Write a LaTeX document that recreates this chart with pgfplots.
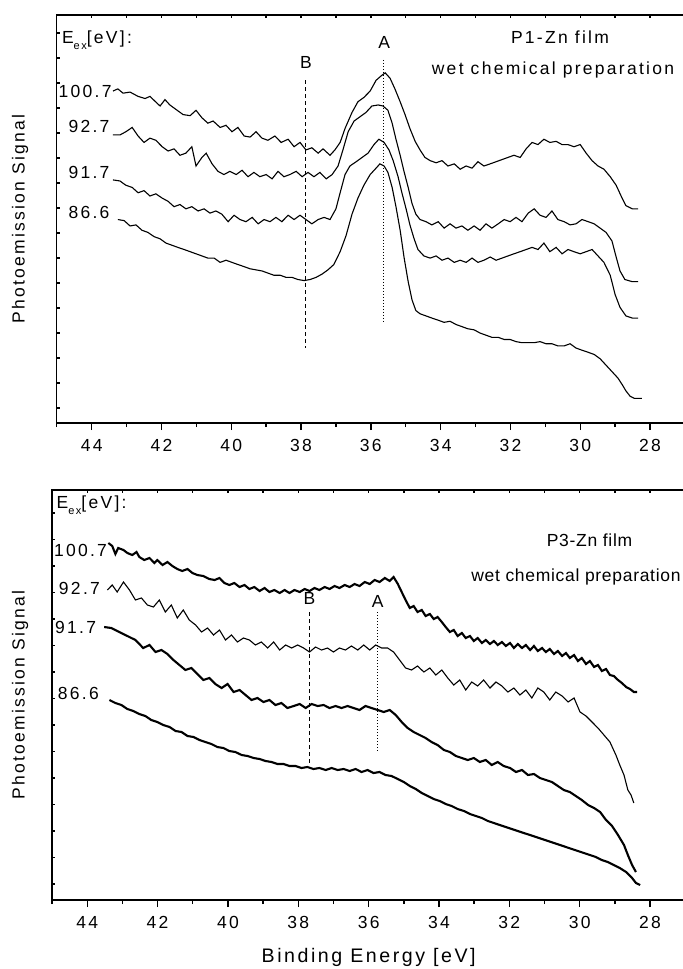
\documentclass[border=0pt]{standalone}
\usepackage{pgfplots}
\pgfplotsset{compat=1.18}
\usepackage{fontspec}
\setmainfont[LetterSpace=13]{Liberation Sans}
\newfontfamily\narrowfont[LetterSpace=4]{Liberation Sans}
\newcommand{\fs}{\fontsize{8.75}{10.5}\selectfont}
\newcommand{\Eex}{E\raisebox{-0.7ex}{\fontsize{5.5}{6}\selectfont ex}[eV]:}
\pgfplotsset{
  base/.style={
    scale only axis, anchor=north west,
    xmin=27, xmax=45, x dir=reverse,
    axis line style={line width=0.7pt},
    every tick label/.append style={font=\fs},
    /pgf/number format/assume math mode=true,
    label style={font=\fs},
  },
  mainax/.style={base,
    tick align=outside, xtick pos=left, ytick=\empty,
    xtick={28,30,...,44}, minor xtick={27,29,...,45},
    major tick length=3.5pt, minor tick length=2pt,
    tick style={line width=0.7pt, black},
    xticklabel style={yshift=-1pt},
  },
  overax/.style={base,
    tick align=inside, xtick pos=right, ytick pos=left,
    xtick={27,28,...,45}, xticklabels={}, yticklabels={},
    major tick length=1.5pt,
    tick style={line width=0.7pt, black},
  },
  thin/.style={black, line width=0.55pt, no marks},
  bold/.style={black, line width=1.05pt, no marks},
}
\begin{document}
\begin{tikzpicture}
%================ TOP PANEL =================
\begin{axis}[overax, at={(28.4pt,-7.5pt)}, width=314.05pt, height=204pt,
  ymin=-400, ymax=-19, ytick={-35.85,-59.19,...,-400}]
\end{axis}
\begin{axis}[mainax, at={(28.4pt,-7.5pt)}, width=314.05pt, height=204pt,
  ymin=-400, ymax=-19,
  ylabel={Photoemission Signal},
  ylabel style={at={(axis description cs:-0.0586,0.5)}, anchor=center},
  clip=false]
% 100.7
\addplot[thin] coordinates {
(43.39,-90)(43.25,-88)(43.10,-92)(42.90,-91)(42.67,-95)(42.47,-97)(42.33,-95)(42.17,-100)(42.04,-104)(41.90,-98)(41.76,-103)(41.55,-108)(41.38,-112)(41.18,-113)(41.01,-108)(40.84,-115)(40.67,-120)(40.52,-118)(40.32,-124)(40.15,-122)(39.98,-128)(39.81,-124)(39.63,-132)(39.46,-133)(39.29,-128)(39.12,-134)(38.95,-136)(38.75,-132)(38.57,-138)(38.37,-135)(38.20,-142)(38.03,-138)(37.86,-145)(37.69,-143)(37.51,-148)(37.37,-144)(37.17,-150)(37.03,-145)(36.88,-138)(36.74,-125)(36.54,-110)(36.37,-100)(36.20,-96)(36.02,-90)(35.85,-80)(35.71,-76)(35.59,-73)(35.45,-78)(35.31,-88)(35.16,-100)(35.02,-112)(34.88,-125)(34.73,-137)(34.59,-145)(34.45,-152)(34.30,-155)(34.13,-157)(33.96,-155)(33.79,-160)(33.61,-158)(33.44,-163)(33.27,-160)(33.10,-162)(32.93,-156)(32.76,-160)(32.58,-158)(32.41,-156)(32.24,-154)(32.07,-152)(31.90,-150)(31.72,-152)(31.55,-144)(31.38,-138)(31.21,-140)(31.04,-135)(30.87,-138)(30.69,-137)(30.52,-140)(30.35,-140)(30.18,-142)(30.00,-140)(29.83,-148)(29.66,-155)(29.49,-160)(29.32,-163)(29.14,-170)(28.97,-178)(28.80,-190)(28.69,-197)(28.51,-200)(28.34,-200)};
% 92.7
\addplot[thin] coordinates {
(43.39,-131)(43.19,-131)(43.02,-128)(42.84,-124)(42.67,-132)(42.50,-138)(42.33,-134)(42.16,-136)(41.98,-142)(41.81,-146)(41.64,-144)(41.47,-150)(41.30,-148)(41.13,-142)(41.01,-160)(40.84,-152)(40.72,-148)(40.55,-158)(40.38,-165)(40.21,-168)(40.04,-165)(39.86,-168)(39.69,-164)(39.52,-170)(39.35,-166)(39.18,-170)(39.00,-168)(38.83,-172)(38.66,-165)(38.49,-170)(38.32,-168)(38.14,-165)(37.97,-170)(37.80,-166)(37.63,-170)(37.46,-166)(37.28,-172)(37.11,-168)(36.94,-160)(36.80,-145)(36.65,-128)(36.48,-118)(36.31,-114)(36.14,-110)(35.97,-104)(35.79,-103)(35.65,-104)(35.51,-108)(35.39,-120)(35.28,-135)(35.16,-150)(35.05,-165)(34.93,-180)(34.82,-195)(34.71,-205)(34.59,-210)(34.42,-212)(34.25,-215)(34.07,-212)(33.90,-218)(33.73,-214)(33.56,-218)(33.39,-216)(33.22,-220)(33.04,-216)(32.87,-220)(32.70,-214)(32.53,-218)(32.35,-214)(32.18,-210)(32.01,-212)(31.84,-208)(31.67,-212)(31.49,-204)(31.32,-200)(31.15,-206)(30.98,-208)(30.81,-202)(30.64,-210)(30.46,-212)(30.29,-215)(30.12,-214)(29.95,-210)(29.77,-212)(29.60,-214)(29.43,-218)(29.26,-222)(29.09,-230)(28.97,-245)(28.86,-258)(28.72,-266)(28.51,-268)(28.34,-268)};
% 91.7
\addplot[thin] coordinates {
(43.39,-173)(43.19,-174)(43.02,-178)(42.84,-180)(42.67,-185)(42.50,-183)(42.33,-188)(42.16,-186)(41.98,-190)(41.81,-193)(41.64,-198)(41.47,-196)(41.30,-200)(41.13,-198)(40.95,-202)(40.78,-200)(40.61,-204)(40.44,-202)(40.27,-205)(40.09,-212)(39.92,-206)(39.75,-210)(39.58,-212)(39.40,-208)(39.23,-214)(39.06,-210)(38.89,-212)(38.72,-208)(38.55,-212)(38.37,-206)(38.20,-210)(38.03,-206)(37.86,-210)(37.69,-214)(37.51,-210)(37.34,-208)(37.17,-210)(37.00,-200)(36.88,-185)(36.74,-168)(36.60,-160)(36.42,-156)(36.25,-152)(36.08,-148)(35.91,-140)(35.77,-135)(35.62,-138)(35.48,-145)(35.36,-155)(35.22,-170)(35.11,-185)(34.99,-200)(34.88,-215)(34.76,-228)(34.65,-238)(34.48,-244)(34.30,-246)(34.13,-244)(33.96,-248)(33.79,-246)(33.61,-250)(33.44,-248)(33.27,-250)(33.10,-246)(32.93,-250)(32.76,-248)(32.58,-245)(32.41,-248)(32.24,-246)(32.07,-244)(31.90,-242)(31.72,-240)(31.55,-238)(31.38,-236)(31.21,-238)(31.04,-232)(30.87,-240)(30.69,-236)(30.52,-242)(30.35,-238)(30.18,-240)(30.00,-242)(29.83,-240)(29.66,-238)(29.49,-244)(29.32,-250)(29.14,-262)(29.00,-280)(28.86,-292)(28.69,-300)(28.51,-302)(28.34,-302)};
% 86.6
\addplot[thin] coordinates {
(43.25,-210)(43.07,-211)(42.90,-216)(42.73,-215)(42.56,-220)(42.39,-222)(42.21,-226)(42.04,-228)(41.87,-232)(41.70,-234)(41.53,-236)(41.35,-238)(41.18,-240)(41.01,-242)(40.84,-244)(40.67,-246)(40.49,-246)(40.32,-250)(40.15,-248)(39.98,-250)(39.81,-252)(39.63,-254)(39.46,-256)(39.29,-257)(39.12,-258)(38.95,-260)(38.78,-262)(38.60,-262)(38.43,-264)(38.26,-264)(38.09,-266)(37.91,-267)(37.74,-266)(37.57,-264)(37.40,-261)(37.23,-257)(37.06,-252)(36.88,-240)(36.71,-225)(36.54,-205)(36.37,-190)(36.20,-178)(36.02,-168)(35.85,-162)(35.74,-158)(35.62,-160)(35.51,-166)(35.39,-180)(35.28,-198)(35.16,-220)(35.05,-245)(34.93,-268)(34.82,-285)(34.71,-295)(34.59,-298)(34.42,-300)(34.25,-302)(34.07,-304)(33.90,-306)(33.73,-305)(33.56,-308)(33.39,-310)(33.22,-312)(33.04,-313)(32.87,-316)(32.70,-318)(32.53,-320)(32.35,-320)(32.18,-322)(32.01,-322)(31.84,-324)(31.67,-325)(31.49,-325)(31.32,-325)(31.15,-324)(30.98,-326)(30.81,-326)(30.64,-328)(30.46,-328)(30.29,-326)(30.12,-330)(29.95,-332)(29.77,-334)(29.60,-336)(29.43,-340)(29.26,-346)(29.09,-352)(28.92,-358)(28.80,-364)(28.69,-370)(28.57,-375)(28.45,-377)(28.23,-377)};
% marker lines
\addplot[black, line width=0.55pt, dash pattern=on 2pt off 1.5pt] coordinates {(37.86,-80)(37.86,-330)};
\addplot[black, line width=0.55pt, dash pattern=on 0.5pt off 1pt] coordinates {(35.65,-61)(35.65,-305)};
\node[font=\fs] at (axis cs:35.62,-45.1) {A};
\node[font=\fs] at (axis cs:37.86,-63.8) {B};
\node[font=\fs, anchor=west, inner sep=0] at (axis cs:44.86,-42.4) {\Eex};
\node[font=\fs, anchor=east, inner sep=0] at (axis cs:43.42,-90) {100.7};
\node[font=\fs, anchor=east, inner sep=0] at (axis cs:43.48,-122.7) {92.7};
\node[font=\fs, anchor=east, inner sep=0] at (axis cs:43.48,-165.6) {91.7};
\node[font=\fs, anchor=east, inner sep=0] at (axis cs:43.48,-203) {86.6};
\node[font=\fs] at (axis cs:30.58,-39.5) {P1-Zn film};
\node[font=\fs] at (axis cs:30.78,-70) {wet chemical preparation};
\end{axis}
%================ BOTTOM PANEL =================
\begin{axis}[overax, at={(26.05pt,-245pt)}, width=316.55pt, height=205pt,
  ymin=-900, ymax=-490, ytick={-513,-539.5,...,-900}]
\end{axis}
\begin{axis}[mainax, at={(26.05pt,-245pt)}, width=316.55pt, height=205pt,
  ymin=-900, ymax=-490,
  ylabel={Photoemission Signal},
  ylabel style={at={(axis description cs:-0.0507,0.5)}, anchor=center},
  xlabel={Binding Energy [eV]},
  xlabel style={at={(axis description cs:0.5,0)}, anchor=center, yshift=-28.5pt, font=\fontsize{9.8}{11}\selectfont},
  clip=false]
% 100.7
\addplot[bold] coordinates {
(43.40,-543)(43.29,-546)(43.20,-554)(43.12,-548)(42.97,-550)(42.86,-553)(42.72,-555)(42.60,-552)(42.52,-557)(42.38,-560)(42.23,-558)(42.09,-563)(42.01,-560)(41.86,-565)(41.72,-562)(41.58,-566)(41.44,-569)(41.30,-571)(41.15,-569)(41.01,-573)(40.87,-575)(40.70,-576)(40.53,-579)(40.38,-580)(40.24,-578)(40.10,-583)(39.96,-585)(39.82,-583)(39.67,-587)(39.53,-585)(39.39,-589)(39.25,-587)(39.10,-591)(38.96,-588)(38.82,-592)(38.68,-590)(38.53,-593)(38.39,-590)(38.25,-593)(38.11,-590)(37.96,-592)(37.82,-589)(37.68,-591)(37.54,-588)(37.40,-590)(37.25,-587)(37.11,-589)(36.97,-586)(36.83,-588)(36.68,-585)(36.54,-587)(36.40,-584)(36.26,-586)(36.11,-582)(35.97,-584)(35.83,-580)(35.69,-582)(35.54,-578)(35.40,-581)(35.29,-577)(35.17,-584)(35.06,-592)(34.95,-600)(34.83,-608)(34.72,-606)(34.61,-612)(34.49,-610)(34.38,-616)(34.26,-614)(34.15,-619)(34.04,-617)(33.92,-622)(33.81,-627)(33.69,-632)(33.58,-630)(33.47,-636)(33.35,-633)(33.24,-638)(33.12,-636)(33.01,-641)(32.90,-638)(32.78,-643)(32.67,-640)(32.55,-644)(32.44,-641)(32.33,-645)(32.21,-642)(32.10,-646)(31.98,-643)(31.87,-648)(31.76,-644)(31.64,-648)(31.53,-645)(31.41,-650)(31.30,-646)(31.19,-651)(31.07,-648)(30.96,-652)(30.85,-649)(30.73,-654)(30.62,-651)(30.50,-656)(30.39,-653)(30.28,-658)(30.16,-655)(30.05,-661)(29.94,-658)(29.82,-664)(29.71,-661)(29.59,-667)(29.48,-665)(29.37,-671)(29.25,-669)(29.14,-675)(29.03,-676)(28.91,-680)(28.80,-683)(28.68,-687)(28.57,-689)(28.46,-692)(28.37,-692)};
% 92.7
\addplot[thin] coordinates {
(43.43,-590)(43.29,-585)(43.15,-592)(42.97,-582)(42.80,-590)(42.63,-600)(42.46,-598)(42.29,-605)(42.12,-607)(41.95,-600)(41.78,-612)(41.61,-605)(41.44,-618)(41.27,-610)(41.10,-620)(40.92,-625)(40.75,-632)(40.58,-628)(40.41,-635)(40.24,-630)(40.07,-640)(39.90,-635)(39.73,-642)(39.56,-638)(39.39,-640)(39.22,-645)(39.05,-642)(38.87,-648)(38.70,-642)(38.53,-650)(38.36,-645)(38.19,-648)(38.02,-645)(37.85,-648)(37.68,-652)(37.51,-647)(37.34,-650)(37.17,-648)(37.00,-652)(36.83,-648)(36.66,-650)(36.49,-646)(36.31,-650)(36.14,-645)(35.97,-650)(35.80,-645)(35.63,-648)(35.46,-648)(35.29,-652)(35.12,-660)(34.95,-668)(34.78,-670)(34.61,-666)(34.43,-672)(34.26,-668)(34.09,-675)(33.92,-670)(33.75,-678)(33.58,-685)(33.41,-680)(33.24,-690)(33.07,-682)(32.90,-686)(32.73,-680)(32.55,-688)(32.38,-682)(32.21,-686)(32.04,-692)(31.87,-688)(31.70,-695)(31.53,-690)(31.36,-698)(31.19,-688)(31.02,-692)(30.85,-700)(30.68,-692)(30.50,-696)(30.33,-702)(30.16,-698)(29.99,-712)(29.82,-716)(29.65,-722)(29.48,-728)(29.31,-735)(29.14,-742)(28.97,-755)(28.86,-765)(28.74,-775)(28.63,-790)(28.54,-795)(28.46,-803)};
% 91.7
\addplot[bold] coordinates {
(43.52,-627)(43.32,-628)(43.09,-632)(42.86,-636)(42.63,-640)(42.41,-648)(42.23,-645)(42.06,-652)(41.89,-650)(41.72,-654)(41.55,-660)(41.38,-665)(41.21,-670)(41.04,-668)(40.87,-674)(40.70,-680)(40.53,-678)(40.36,-684)(40.18,-688)(40.01,-684)(39.84,-692)(39.67,-690)(39.50,-695)(39.33,-700)(39.16,-698)(38.99,-702)(38.82,-700)(38.65,-705)(38.48,-703)(38.31,-708)(38.13,-706)(37.96,-704)(37.79,-708)(37.62,-704)(37.45,-706)(37.28,-705)(37.11,-708)(36.94,-706)(36.77,-708)(36.60,-706)(36.43,-708)(36.26,-710)(36.09,-706)(35.92,-708)(35.74,-710)(35.57,-712)(35.40,-710)(35.23,-715)(35.06,-722)(34.89,-728)(34.72,-732)(34.55,-735)(34.38,-738)(34.21,-742)(34.04,-745)(33.86,-750)(33.69,-752)(33.52,-756)(33.35,-758)(33.18,-760)(33.01,-758)(32.84,-762)(32.67,-760)(32.50,-765)(32.33,-762)(32.16,-766)(31.98,-768)(31.81,-772)(31.64,-770)(31.47,-775)(31.30,-774)(31.13,-778)(30.96,-780)(30.79,-782)(30.62,-786)(30.45,-790)(30.28,-792)(30.11,-796)(29.94,-800)(29.76,-805)(29.59,-808)(29.42,-812)(29.25,-820)(29.08,-826)(28.91,-835)(28.74,-845)(28.63,-855)(28.51,-865)(28.40,-872)};
% 86.6
\addplot[bold] coordinates {
(43.37,-700)(43.20,-703)(43.03,-705)(42.86,-709)(42.69,-711)(42.52,-714)(42.35,-716)(42.18,-720)(42.01,-722)(41.84,-725)(41.66,-727)(41.49,-731)(41.32,-732)(41.15,-736)(40.98,-737)(40.81,-740)(40.64,-742)(40.47,-744)(40.30,-747)(40.13,-748)(39.96,-751)(39.79,-752)(39.61,-755)(39.44,-756)(39.27,-758)(39.10,-759)(38.93,-761)(38.76,-762)(38.59,-764)(38.42,-764)(38.25,-766)(38.08,-766)(37.91,-768)(37.74,-767)(37.57,-769)(37.40,-768)(37.22,-770)(37.05,-768)(36.88,-770)(36.71,-769)(36.54,-771)(36.37,-769)(36.20,-772)(36.03,-770)(35.86,-773)(35.69,-772)(35.52,-775)(35.35,-776)(35.17,-779)(35.00,-782)(34.83,-786)(34.66,-789)(34.49,-793)(34.32,-796)(34.15,-799)(33.98,-801)(33.81,-804)(33.64,-806)(33.47,-809)(33.29,-811)(33.12,-814)(32.95,-816)(32.78,-818)(32.61,-821)(32.44,-823)(32.27,-825)(32.10,-827)(31.93,-829)(31.76,-831)(31.59,-833)(31.41,-835)(31.24,-837)(31.07,-839)(30.90,-841)(30.73,-843)(30.56,-845)(30.39,-847)(30.22,-849)(30.05,-851)(29.88,-853)(29.71,-855)(29.54,-857)(29.37,-860)(29.20,-862)(29.03,-865)(28.86,-868)(28.68,-872)(28.51,-878)(28.40,-883)(28.28,-885)};
\addplot[black, line width=0.55pt, dash pattern=on 2pt off 1.5pt] coordinates {(37.68,-612)(37.68,-765)};
\addplot[black, line width=0.55pt, dash pattern=on 0.5pt off 1pt] coordinates {(35.74,-612)(35.74,-752)};
\node[font=\fs] at (axis cs:35.74,-601) {A};
\node[font=\fs] at (axis cs:37.68,-598) {B};
\node[font=\fs, anchor=west, inner sep=0] at (axis cs:44.88,-505) {\Eex};
\node[font=\fs, anchor=east, inner sep=0] at (axis cs:43.43,-550) {100.7};
\node[font=\fs, anchor=east, inner sep=0] at (axis cs:43.63,-588) {92.7};
\node[font=\fs, anchor=east, inner sep=0] at (axis cs:43.74,-627) {91.7};
\node[font=\fs, anchor=east, inner sep=0] at (axis cs:43.66,-693) {86.6};
\node[font=\fs\narrowfont] at (axis cs:29.72,-540) {P3-Zn film};
\node[font=\fs\narrowfont, anchor=east, inner sep=0] at (axis cs:27.12,-577) {wet chemical preparation};
\end{axis}
\pgfresetboundingbox
\useasboundingbox (0,0) rectangle (341.5pt,-484.5pt);
\end{tikzpicture}
\end{document}
